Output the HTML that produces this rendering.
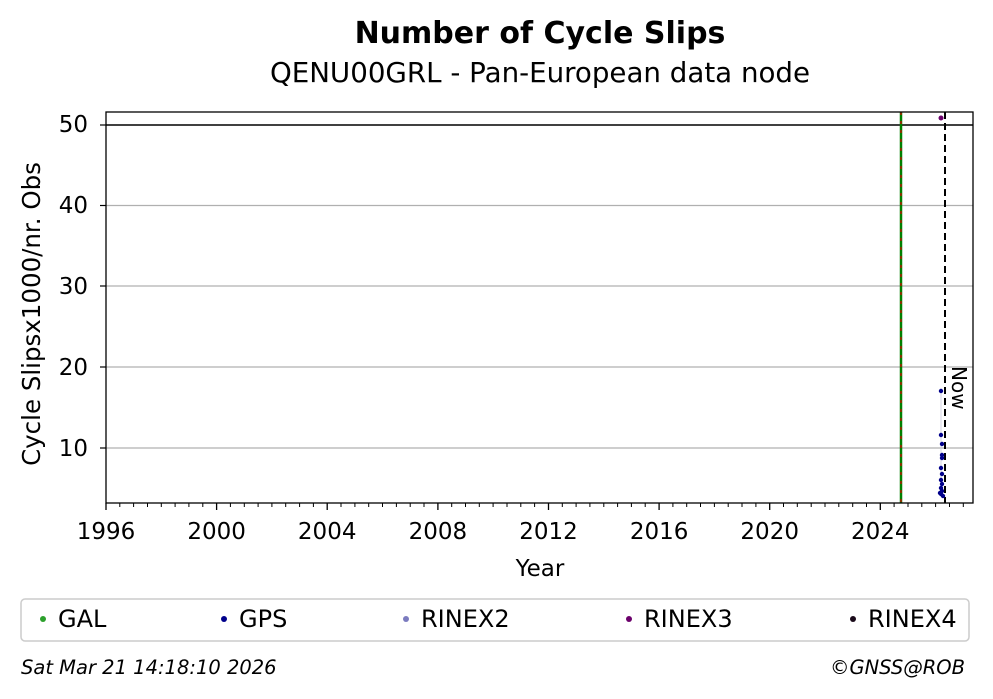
<!DOCTYPE html>
<html><head><meta charset="utf-8"><style>body{margin:0;background:#fff}svg{display:block}</style></head><body>
<svg width="993" height="699" xmlns="http://www.w3.org/2000/svg" font-family="DejaVu Sans, Liberation Sans, sans-serif">
<rect width="993" height="699" fill="#fff"/>
<text x="540" y="43" text-anchor="middle" font-size="30" font-weight="bold">Number of Cycle Slips</text>
<text x="540" y="82" text-anchor="middle" font-size="27.7">QENU00GRL - Pan-European data node</text>
<g stroke="#b0b0b0" stroke-width="1.2">
<line x1="106" x2="973" y1="205.5" y2="205.5"/><line x1="106" x2="973" y1="286" y2="286"/>
<line x1="106" x2="973" y1="367" y2="367"/><line x1="106" x2="973" y1="448" y2="448"/>
</g>
<line x1="106" x2="973" y1="125" y2="125" stroke="#000" stroke-width="1.5"/>
<line x1="901" x2="901" y1="112" y2="503" stroke="#008000" stroke-width="2.5"/>
<line x1="901" x2="901" y1="112" y2="503" stroke="#e00000" stroke-width="1.2" stroke-dasharray="3,6"/>
<line x1="945" x2="945" y1="112" y2="503" stroke="#000" stroke-width="2" stroke-dasharray="7,4"/>
<text transform="translate(952,366) rotate(90)" font-size="20">Now</text>
<line x1="941" x2="941" y1="391" y2="497" stroke="#ccd" stroke-width="0.8"/>
<g fill="#00008b">
<circle cx="941" cy="391" r="2.2"/><circle cx="941" cy="435" r="2.2"/><circle cx="942" cy="444" r="2.2"/>
<circle cx="942" cy="455" r="2.2"/><circle cx="942" cy="458" r="2.2"/><circle cx="941" cy="468" r="2.2"/>
<circle cx="942" cy="474" r="2.2"/><circle cx="941" cy="480" r="2.2"/><circle cx="942" cy="484" r="2.2"/>
<circle cx="941" cy="488" r="2.2"/><circle cx="942" cy="491" r="2.2"/><circle cx="941" cy="494" r="2.2"/>
<circle cx="943" cy="496" r="2.2"/><circle cx="940" cy="493" r="2.2"/>
</g>
<circle cx="941" cy="118" r="2.5" fill="#6b006b"/>
<rect x="106" y="112" width="867" height="391" fill="none" stroke="#000" stroke-width="1.3"/>
<g font-size="23" text-anchor="end">
<text x="88" y="132">50</text><text x="88" y="213">40</text><text x="88" y="294">30</text><text x="88" y="375">20</text><text x="88" y="456">10</text>
</g>
<g stroke="#000" stroke-width="1.2">
<line x1="100" x2="106" y1="125" y2="125"/><line x1="100" x2="106" y1="205.5" y2="205.5"/><line x1="100" x2="106" y1="286" y2="286"/><line x1="100" x2="106" y1="367" y2="367"/><line x1="100" x2="106" y1="448" y2="448"/>
</g>
<g stroke="#000" stroke-width="1"><path d="M119.8 503v4M133.6 503v4M147.5 503v4M161.3 503v4M175.1 503v4M188.9 503v4M202.8 503v4M230.4 503v4M244.3 503v4M258.1 503v4M271.9 503v4M285.7 503v4M299.6 503v4M313.4 503v4M341 503v4M354.9 503v4M368.7 503v4M382.5 503v4M396.4 503v4M410.2 503v4M424 503v4M451.7 503v4M465.5 503v4M479.3 503v4M493.1 503v4M507 503v4M520.8 503v4M534.6 503v4M562.3 503v4M576.1 503v4M589.9 503v4M603.8 503v4M617.6 503v4M631.4 503v4M645.2 503v4M672.9 503v4M686.7 503v4M700.5 503v4M714.4 503v4M728.2 503v4M742 503v4M755.9 503v4M783.5 503v4M797.3 503v4M811.2 503v4M825 503v4M838.8 503v4M852.7 503v4M866.5 503v4M894.1 503v4M908 503v4M921.8 503v4M935.6 503v4M949.5 503v4M963.3 503v4"/></g>
<g stroke="#000" stroke-width="1.3"><path d="M106 503v7M216.6 503v7M327.2 503v7M437.9 503v7M548.5 503v7M659.1 503v7M769.7 503v7M880.3 503v7"/></g>
<g font-size="23" text-anchor="middle">
<text x="106" y="539">1996</text><text x="216.6" y="539">2000</text><text x="327.2" y="539">2004</text><text x="437.9" y="539">2008</text><text x="548.5" y="539">2012</text><text x="659.1" y="539">2016</text><text x="769.7" y="539">2020</text><text x="880.3" y="539">2024</text>
<text x="540" y="576">Year</text>
</g>
<text transform="translate(40,314) rotate(-90)" font-size="24.5" text-anchor="middle">Cycle Slipsx1000/nr. Obs</text>
<rect x="21" y="599" width="948" height="42" rx="4" fill="#fff" stroke="#ccc" stroke-width="1.5"/>
<g font-size="24">
<circle cx="43" cy="619" r="3" fill="#2ca02c"/><text x="58" y="627">GAL</text>
<circle cx="224" cy="619" r="3" fill="#00008b"/><text x="239" y="627">GPS</text>
<circle cx="406" cy="619" r="3" fill="#7b7bbf"/><text x="421" y="627">RINEX2</text>
<circle cx="629" cy="619" r="3" fill="#6b006b"/><text x="644" y="627">RINEX3</text>
<circle cx="853" cy="619" r="3" fill="#1a0a1a"/><text x="868" y="627">RINEX4</text>
</g>
<text x="21" y="674" font-size="19.5" font-style="italic">Sat Mar 21 14:18:10 2026</text>
<text x="965" y="674" font-size="19.5" font-style="italic" text-anchor="end">©GNSS@ROB</text>
</svg>
</body></html>
